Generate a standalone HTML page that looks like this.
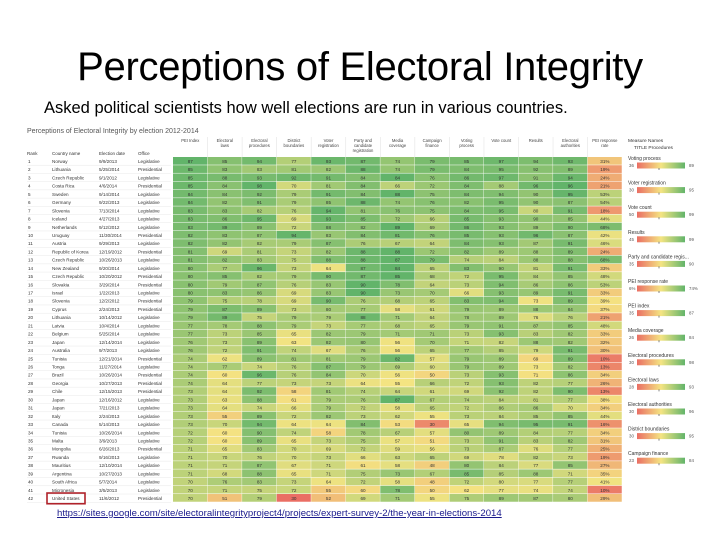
<!DOCTYPE html>
<html><head><meta charset="utf-8"><style>
body{margin:0;background:#fff;width:720px;height:540px;overflow:hidden;position:relative;font-family:"Liberation Sans",sans-serif}
#title{position:absolute;left:0;width:720px;top:45px;text-align:center;font-size:40px;color:#000;letter-spacing:-0.3px}
#sub{position:absolute;left:44px;top:99px;font-size:16.5px;color:#000}
#link{position:absolute;left:57px;top:508px;font-size:9.6px;color:#1a1a8c;text-decoration:underline}
svg{position:absolute;left:0;top:0}
</style></head><body>
<div id="title">Perceptions of Electoral Integrity</div>
<div id="sub">Asked political scientists how well elections are run in various countries.</div>
<svg id="chart" width="720" height="540"></svg>
<div id="link">https://sites.google.com/site/electoralintegrityproject4/projects/expert-survey-2/the-year-in-elections-2014</div>
<script>
const measures=["PEI Index","Electoral laws","Electoral procedures","District boundaries","Voter registration","Party and candidate registration","Media coverage","Campaign finance","Voting process","Vote count","Results","Electoral authorities","PEI response rate"];
const scaleMin=[35,28,30,30,30,35,26,23,36,50,45,30,6];
const scaleMax=[87,93,98,95,95,90,84,84,89,99,99,96,74];
const countries=["Norway","Lithuania","Czech Republic","Costa Rica","Sweden","Germany","Slovenia","Iceland","Netherlands","Uruguay","Austria","Republic of Korea","Czech Republic","New Zealand","Czech Republic","Slovakia","Israel","Slovenia","Cyprus","Lithuania","Latvia","Belgium","Japan","Australia","Tunisia","Tonga","Brazil","Georgia","Chile","Japan","Japan","Italy","Canada","Tunisia","Malta","Mongolia","Rwanda","Mauritius","Argentina","South Africa","Micronesia","United States"];
const dates=["9/9/2013","5/25/2014","9/1/2012","4/6/2014","9/14/2014","9/22/2013","7/13/2014","4/27/2013","9/12/2012","11/30/2014","9/29/2013","12/19/2012","10/26/2013","9/20/2014","10/20/2012","3/29/2014","1/22/2013","12/2/2012","2/24/2013","10/14/2012","10/4/2014","5/25/2014","12/14/2014","9/7/2013","12/21/2014","11/27/2014","10/26/2014","10/27/2013","12/15/2013","12/16/2012","7/21/2013","2/24/2013","5/14/2013","10/26/2014","3/9/2013","6/26/2013","9/16/2013","12/10/2014","10/27/2013","5/7/2014","3/5/2013","11/6/2012"];
const offices=["Legislative","Presidential","Legislative","Presidential","Legislative","Legislative","Legislative","Legislative","Legislative","Presidential","Legislative","Presidential","Legislative","Legislative","Presidential","Presidential","Legislative","Presidential","Presidential","Legislative","Legislative","Legislative","Legislative","Legislative","Presidential","Legislative","Presidential","Presidential","Presidential","Legislative","Legislative","Legislative","Legislative","Legislative","Legislative","Presidential","Legislative","Legislative","Legislative","Legislative","Legislative","Presidential"];
const values=[
[87,85,94,77,93,87,74,79,85,97,94,93,31],[85,83,83,81,82,88,74,79,84,95,92,89,19],[85,88,93,92,91,84,84,76,86,97,91,94,24],[85,84,98,70,81,84,66,72,84,88,96,96,21],[84,84,92,79,91,84,88,75,84,94,90,95,53],[84,82,91,79,85,88,74,76,82,95,90,87,54],[83,83,82,76,94,81,76,75,84,95,80,91,18],[83,86,95,69,93,85,72,66,85,93,90,85,44],[83,89,89,72,88,82,89,69,86,93,89,90,68],[82,83,87,94,83,84,81,76,85,93,96,87,42],[82,82,82,79,87,76,67,64,84,93,87,91,46],[81,69,81,73,82,88,88,72,82,89,88,89,24],[81,82,83,75,88,88,87,79,74,84,88,88,68],[80,77,96,73,64,87,84,65,83,90,81,91,33],[80,85,82,79,90,87,85,68,72,95,84,85,48],[80,79,87,76,83,90,78,64,73,94,86,86,53],[80,83,86,69,83,90,73,70,66,93,89,91,33],[79,75,78,69,90,76,68,65,83,94,73,89,39],[79,87,89,73,80,77,58,61,79,89,88,84,37],[79,89,75,79,79,88,71,64,78,89,76,76,21],
[77,78,88,79,73,77,68,65,79,91,87,85,48],[77,73,85,65,82,79,71,71,73,93,83,82,33],[76,73,89,63,82,80,56,70,71,82,88,82,32],[76,72,91,74,67,76,56,65,77,85,79,91,30],[74,62,89,81,81,79,82,57,79,89,69,89,10],[74,77,74,76,87,79,69,60,79,89,73,82,13],[74,60,96,76,84,70,56,50,73,93,71,86,34],[74,64,77,73,73,64,55,66,72,93,82,77,26],[73,64,92,58,81,74,64,61,69,92,82,90,13],[73,63,88,61,79,76,87,67,74,84,81,77,38],[73,64,74,66,79,72,58,65,72,86,86,70,34],[73,55,89,72,82,73,62,55,73,84,85,85,44],[73,70,94,64,64,84,53,30,65,94,95,91,16],[72,60,90,74,58,78,67,57,80,89,84,77,34],[72,60,89,65,73,75,57,51,73,91,83,82,31],[71,65,83,70,69,72,59,56,73,87,76,77,25],[71,70,76,70,73,66,63,65,69,78,82,73,19],[71,71,87,67,71,61,58,48,80,84,77,85,27],[71,68,88,65,71,75,73,67,85,85,88,71,35],[70,76,83,73,64,72,58,48,72,80,77,77,41],[70,71,75,72,55,60,78,50,62,77,74,74,10],[70,51,79,30,52,69,71,55,75,89,87,80,29]];
const legendTitles=["Voting process","Voter registration","Vote count","Results","Party and candidate regis...","PEI response rate","PEI index","Media coverage","Electoral procedures","Electoral laws","Electoral authorities","District boundaries","Campaign finance"];
const legendMin=["36","30","50","45","35","6%","35","26","30","28","30","30","23"];
const legendMax=["89","95","99","99","90","74%","87","84","98","93","96","95","84"];

const NS="http://www.w3.org/2000/svg";
const svg=document.getElementById('chart');
function mk(t,a,p){const e=document.createElementNS(NS,t);for(const k in a)e.setAttribute(k,a[k]);(p||svg).appendChild(e);return e;}
function txt(x,y,s,size,fill,anchor,name){const e=mk('text',{x:x,y:y,'font-size':size,fill:fill||'#444','text-anchor':anchor||'start','font-family':'Liberation Sans, sans-serif'});e.textContent=s;return e;}
function lerp(a,b,t){return a.map((v,i)=>Math.round(v+(b[i]-v)*t));}
const RED=[234,110,100],YEL=[244,228,130],GRN=[98,180,106];
function color(t){t=Math.max(0,Math.min(1,t));const c=t<0.5?lerp(RED,YEL,t*2):lerp(YEL,GRN,(t-0.5)*2);return `rgb(${c[0]},${c[1]},${c[2]})`;}

const x0=173,colW=34.55,y0=157,rowH=8.22;
const xScale=c=>x0+c*colW;
const yScale=r=>y0+r*rowH;

txt(27,133,"Perceptions of Electoral Integrity by election 2012-2014",7,'#555','start','table-title');
txt(27,155,"Rank",4.5,'#333','start','rank-header');
txt(52,155,"Country name",4.5,'#333','start','country-header');
txt(99,155,"Election date",4.5,'#333','start','date-header');
txt(138,155,"Office",4.5,'#333','start','office-header');

measures.forEach((m,c)=>{
  const words=m.split(' ');const lines=[];let cur='';
  words.forEach(w=>{if((cur+' '+w).trim().length>12){if(cur)lines.push(cur);cur=w;}else cur=(cur+' '+w).trim();});lines.push(cur);
  lines.forEach((l,i)=>txt(xScale(c)+colW/2,142+i*5,l,4.2,'#444','middle','column-header'));
  if(c>0)mk('line',{x1:xScale(c),y1:137,x2:xScale(c),y2:157,stroke:'#e4e4e4','stroke-width':0.6});
});

values.forEach((row,r)=>{
  const y=yScale(r);
  txt(28,y+6,String(r+1),4.6,'#333','start','rank-cell');
  txt(52,y+6,countries[r],4.6,'#333','start','country-cell');
  txt(99,y+6,dates[r],4.6,'#333','start','date-cell');
  txt(138,y+6,offices[r],4.6,'#333','start','office-cell');
  mk('line',{x1:27,y1:y+rowH,x2:171,y2:y+rowH,stroke:'#e8e8e8','stroke-width':0.5});
  row.forEach((v,c)=>{
    const t=(v-scaleMin[c])/(scaleMax[c]-scaleMin[c]);
    const cell=mk('rect',{x:xScale(c),y:y,width:colW-0.4,height:rowH-0.5,fill:color(t)});
    
    
    txt(xScale(c)+colW/2,y+6,c===12?v+'%':String(v),4.6,'#333','middle','cell-value');
  });
});
const hl=mk('rect',{x:47,y:yScale(41)-1,width:38,height:rowH+2.5,fill:'none',stroke:'#b0222a','stroke-width':1.6});



txt(628,142,"Measure Names",4.8,'#333','start','legend-header');
txt(634,149,"TITLE Procedures",4.8,'#333','start','legend-subheader');
const grad=mk('linearGradient',{id:'g',x1:0,x2:1,y1:0,y2:0},mk('defs',{}));
[[0,RED],[0.5,YEL],[1,GRN]].forEach(s=>mk('stop',{offset:s[0],'stop-color':`rgb(${s[1].join(',')})`},grad));
legendTitles.forEach((t,i)=>{
  const y=160+i*24.6;
  txt(628,y,t,5,'#333','start','legend-title');
  txt(629,y+7,legendMin[i],4.4,'#555','start','legend-min');
  const b=mk('rect',{x:637,y:y+2.5,width:48,height:6,fill:'url(#g)'});
  
  
  mk('line',{x1:659,y1:y+8,x2:659,y2:y+10,stroke:'#333','stroke-width':0.6});
  txt(689,y+7,legendMax[i],4.4,'#555','start','legend-max');
});
</script>
</body></html>
